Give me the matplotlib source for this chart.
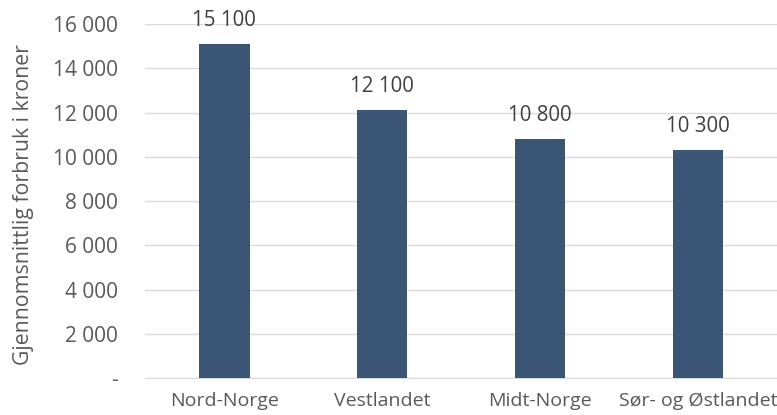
import matplotlib.pyplot as plt
import numpy as np

# data
regioner = ["Nord-Norge", "Vestlandet", "Midt-Norge", "Sør- og Østlandet"]
forbruk = [15100, 12100, 10800, 10300]
yticks = [0, 2000, 4000, 6000, 8000, 10000, 12000, 14000, 16000]

plt.rcParams['font.family'] = ['Open Sans', 'DejaVu Sans']
tekst = '#595959'

fig = plt.figure(figsize=(7.77, 4.15), dpi=100)
ax = fig.add_axes([0.187, 0.089, 0.813, 0.853])

x = np.arange(len(regioner))
ax.bar(x, forbruk, width=0.32, color='#3A5674', zorder=3)

def fmt(v):
    return f"{v:,}".replace(",", " ") if v else "-"

for xi, v in zip(x, forbruk):
    ax.annotate(fmt(v), (xi, v), xytext=(0, 13), textcoords='offset points',
                ha='center', va='baseline', fontsize=14.8, color='#404040')

ax.set_xlim(-0.5, len(regioner) - 0.5)
ax.set_ylim(0, 16000)
ax.set_yticks(yticks)
ax.set_yticklabels([fmt(v) for v in yticks])
ax.set_xticks(x)
ax.set_xticklabels(regioner)
ax.tick_params(axis='y', length=0, labelsize=15, colors=tekst, pad=20)
ax.tick_params(axis='x', length=0, labelsize=14, colors=tekst, pad=10)
ax.grid(axis='y', color='#D9D9D9', linewidth=1, zorder=0)
for s in ['top', 'right', 'left']:
    ax.spines[s].set_visible(False)
ax.spines['bottom'].set_color('#D9D9D9')

# y-aksetittel plassert manuelt
fig.text(24 / 777, 0.506, "Gjennomsnittlig forbruk i kroner", rotation=90,
         ha='center', va='center', fontsize=15.3, color=tekst)

fig.savefig("out.png", dpi=100)
